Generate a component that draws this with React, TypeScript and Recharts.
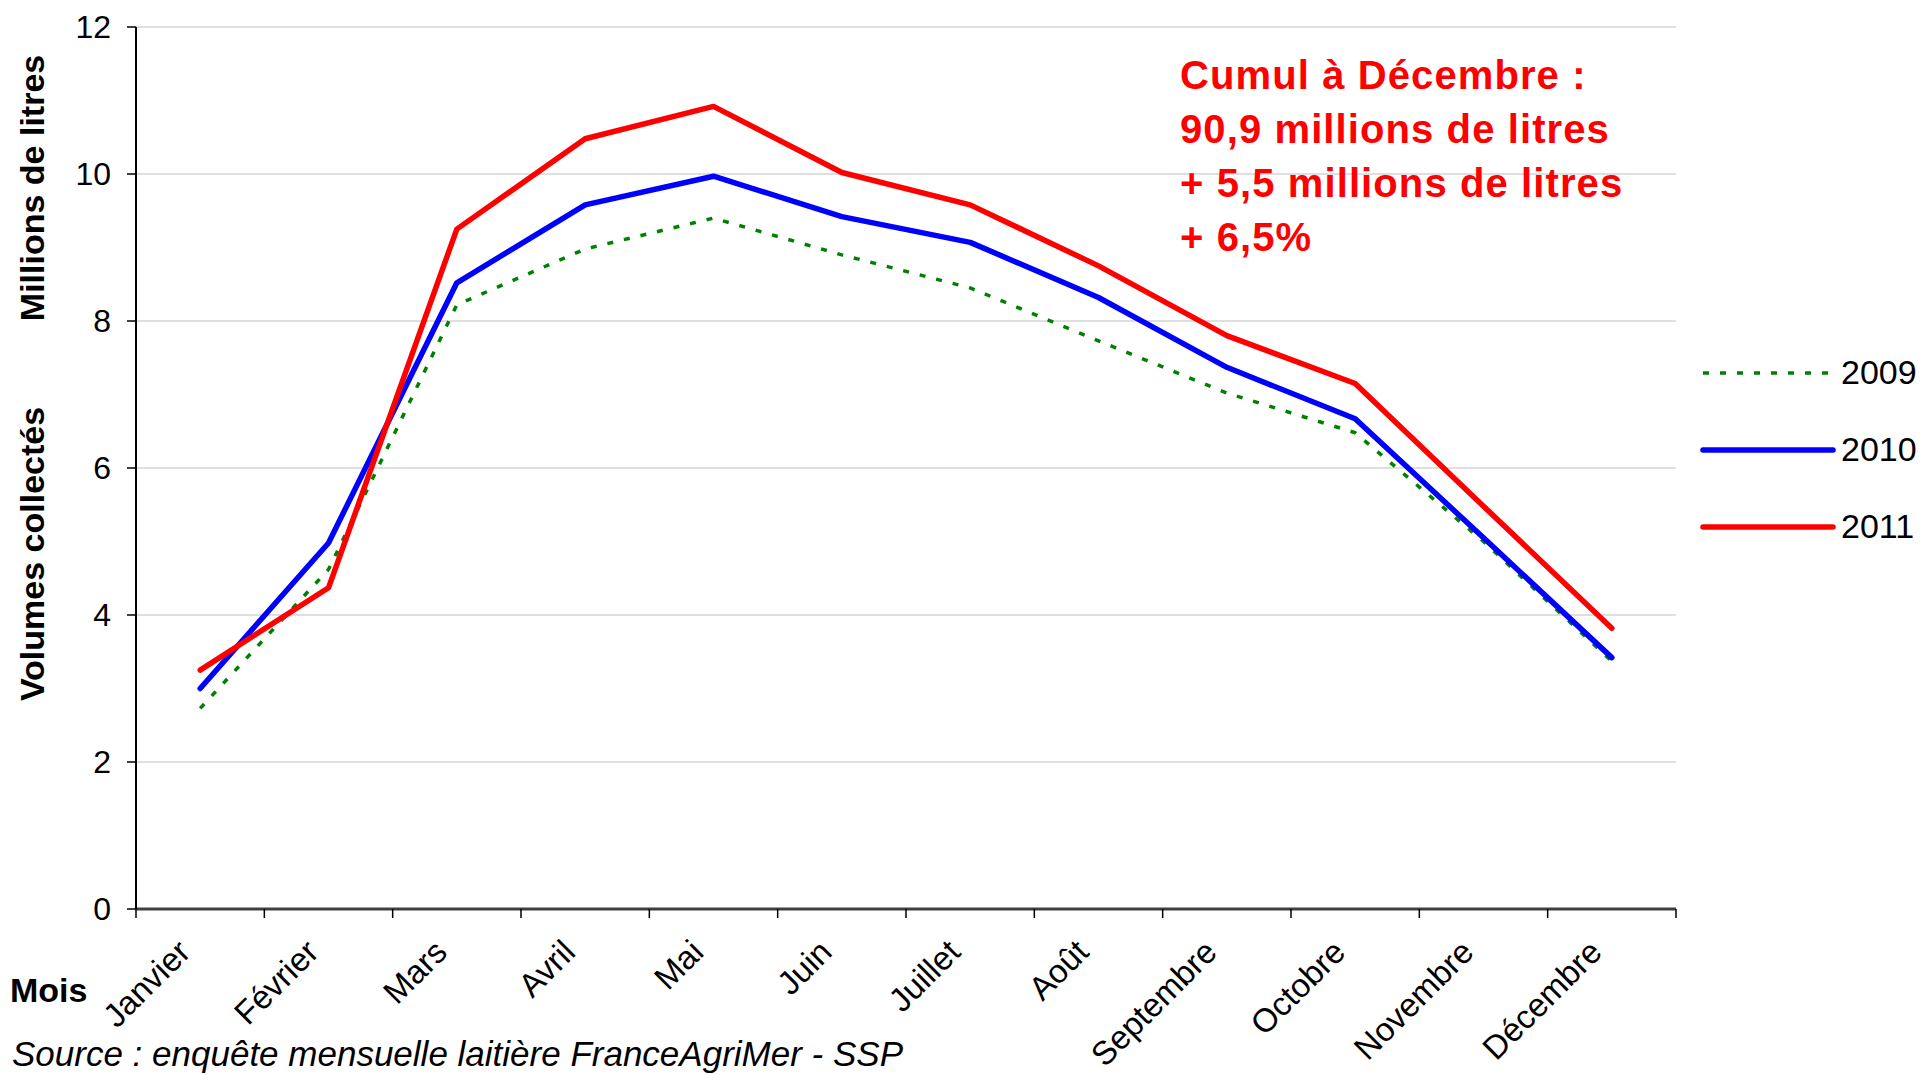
import React from 'react';
import { LineChart, Line, XAxis, YAxis, CartesianGrid, Legend } from 'recharts';

const months = ['Janvier', 'Février', 'Mars', 'Avril', 'Mai', 'Juin', 'Juillet', 'Août', 'Septembre', 'Octobre', 'Novembre', 'Décembre'];
const vol2009 = [2.73, 4.62, 8.22, 8.98, 9.4, 8.9, 8.45, 7.73, 7.02, 6.48, 5.0, 3.37];
const vol2010 = [3.0, 4.98, 8.52, 9.58, 9.97, 9.42, 9.07, 8.32, 7.37, 6.67, 5.05, 3.42];
const vol2011 = [3.25, 4.37, 9.25, 10.48, 10.92, 10.02, 9.58, 8.75, 7.8, 7.15, 5.48, 3.82];
const yTicks = [0, 2, 4, 6, 8, 10, 12];
const xBounds = [0, 1, 2, 3, 4, 5, 6, 7, 8, 9, 10, 11, 12];
const noteLines = ['Cumul à Décembre :', '90,9 millions de litres', '+ 5,5 millions de litres', '+ 6,5%'];

const series = [
  { key: 'y2009', name: '2009', color: '#008000', width: 3.5, dash: '6 11' },
  { key: 'y2010', name: '2010', color: '#0000ff', width: 5.5, dash: undefined },
  { key: 'y2011', name: '2011', color: '#ff0000', width: 5.5, dash: undefined },
];

const data = months.map((m, i) => ({
  month: m,
  pos: i + 0.5,
  y2009: vol2009[i],
  y2010: vol2010[i],
  y2011: vol2011[i],
}));

const W = 1921;
const H = 1075;
const LEFT = 136;
const RIGHT_M = 245;
const HALF_BAND = (W - LEFT - RIGHT_M) / 24;
const FONT = '"Liberation Sans", Arial, Helvetica, sans-serif';

function MonthTick(props: any) {
  const { x, y, payload } = props;
  const label = months[payload.value];
  if (!label) return null;
  const cx = x + HALF_BAND - 8;
  const cy = y + 34;
  return (
    <text
      x={cx}
      y={cy}
      textAnchor="end"
      fontSize={33}
      fontFamily={FONT}
      fill="#000"
      transform={`rotate(-45 ${cx} ${cy})`}
    >
      {label}
    </text>
  );
}

function LegendBox() {
  return (
    <div style={{ fontFamily: FONT }}>
      {series.map((s) => (
        <div key={s.key} style={{ display: 'flex', alignItems: 'center', height: 77 }}>
          <svg width={141} height={20}>
            <line
              x1={3}
              y1={10}
              x2={133}
              y2={10}
              stroke={s.color}
              strokeWidth={s.width}
              strokeDasharray={s.dash}
              strokeLinecap={s.dash ? 'butt' : 'round'}
            />
          </svg>
          <span style={{ fontSize: 34, color: '#000' }}>{s.name}</span>
        </div>
      ))}
    </div>
  );
}

export default function App() {
  return (
    <div style={{ position: 'absolute', left: 0, top: 0, width: W, height: H, background: '#fff' }}>
      <LineChart width={W} height={H} data={data} margin={{ top: 27, right: RIGHT_M, left: 0, bottom: 0 }}>
        <CartesianGrid vertical={false} stroke="#d4d4d4" strokeWidth={1.5} xAxisId="main" yAxisId="left" />
        <XAxis
          xAxisId="main"
          dataKey="pos"
          type="number"
          domain={[0, 12]}
          ticks={xBounds}
          interval={0}
          height={166}
          tickSize={9}
          tick={<MonthTick />}
          tickLine={{ stroke: '#000', strokeWidth: 1.5 }}
          axisLine={{ stroke: '#404040', strokeWidth: 3 }}
        />
        <XAxis
          xAxisId="top"
          dataKey="pos"
          type="number"
          domain={[0, 12]}
          orientation="top"
          height={0}
          tick={false}
          tickLine={false}
          axisLine={{ stroke: '#8a8a8a', strokeWidth: 3 }}
        />
        <YAxis
          yAxisId="left"
          domain={[0, 12]}
          ticks={yTicks}
          interval={0}
          width={LEFT}
          tickSize={9}
          tickMargin={16}
          tick={{ fontSize: 32, fill: '#000', fontFamily: FONT }}
          tickLine={{ stroke: '#000', strokeWidth: 1.5 }}
          axisLine={{ stroke: '#000', strokeWidth: 2 }}
        />
        <YAxis
          yAxisId="right"
          orientation="right"
          domain={[0, 12]}
          width={0}
          tick={false}
          tickLine={false}
          axisLine={{ stroke: '#8a8a8a', strokeWidth: 3 }}
        />
        <Legend
          layout="vertical"
          align="center"
          verticalAlign="middle"
          content={<LegendBox />}
          wrapperStyle={{ left: 1700, top: 334, width: 221, height: 231 }}
        />
        {series.map((s) => (
          <Line
            key={s.key}
            xAxisId="main"
            yAxisId="left"
            type="linear"
            dataKey={s.key}
            name={s.name}
            stroke={s.color}
            strokeWidth={s.width}
            strokeDasharray={s.dash}
            strokeLinejoin="round"
            strokeLinecap={s.dash ? 'butt' : 'round'}
            dot={false}
            activeDot={false}
            isAnimationActive={false}
          />
        ))}
      </LineChart>
      <svg
        width={W}
        height={H}
        style={{ position: 'absolute', left: 0, top: 0, pointerEvents: 'none' }}
        fontFamily={FONT}
      >
        <text x={44} y={188} fontSize={34} fontWeight="bold" textAnchor="middle" transform="rotate(-90 44 188)">
          Millions de litres
        </text>
        <text x={44} y={554} fontSize={34} fontWeight="bold" textAnchor="middle" transform="rotate(-90 44 554)">
          Volumes collectés
        </text>
        <text x={10} y={1002} fontSize={34} fontWeight="bold">
          Mois
        </text>
        <text x={12} y={1066} fontSize={35} fontStyle="italic">
          Source : enquête mensuelle laitière FranceAgriMer - SSP
        </text>
        {noteLines.map((t, i) => (
          <text key={t} x={1180} y={89 + i * 54} fontSize={40} fontWeight="bold" fill="#ff0000" letterSpacing={1.1}>
            {t}
          </text>
        ))}
      </svg>
    </div>
  );
}
